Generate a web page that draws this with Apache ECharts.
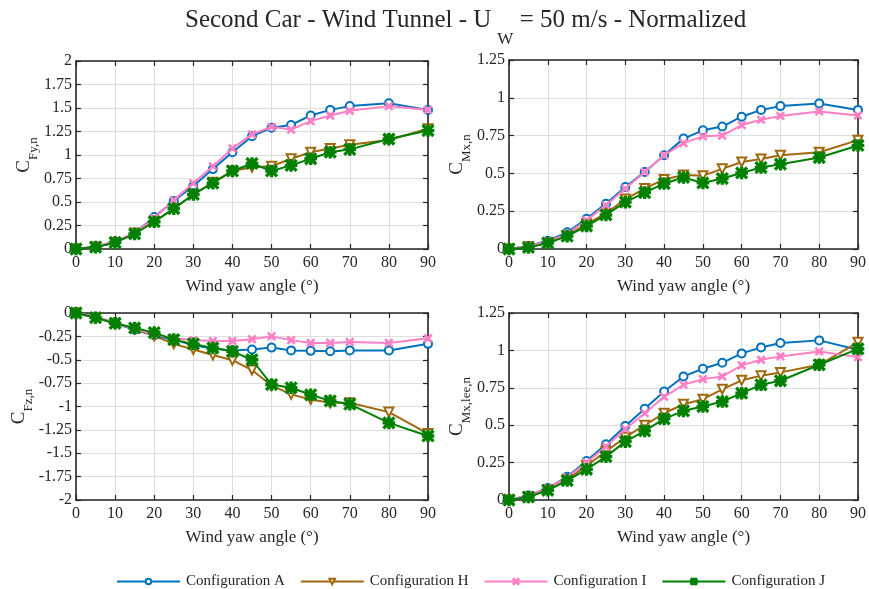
<!DOCTYPE html>
<html><head><meta charset="utf-8">
<script src="https://cdn.jsdelivr.net/npm/echarts@6/dist/echarts.min.js"></script>
<style>html,body{margin:0;padding:0;background:#fff}#c{width:869px;height:589px}</style>
</head><body><div id="c"></div>
<script>
const angles = [0,5,10,15,20,25,30,35,40,45,50,55,60,65,70,80,90];
const seriesNames = ['Configuration A','Configuration H','Configuration I','Configuration J'];

const cfyA = [0,0.02,0.07,0.17,0.34,0.51,0.67,0.85,1.03,1.20,1.29,1.32,1.42,1.48,1.52,1.55,1.48];
const cfyH = [0,0.02,0.07,0.17,0.29,0.43,0.58,0.71,0.83,0.87,0.88,0.96,1.03,1.07,1.11,1.16,1.28];
const cfyI = [0,0.03,0.08,0.17,0.33,0.52,0.70,0.88,1.07,1.22,1.30,1.27,1.36,1.42,1.47,1.52,1.48];
const cfyJ = [0,0.02,0.07,0.16,0.29,0.43,0.58,0.70,0.83,0.91,0.83,0.89,0.96,1.03,1.06,1.17,1.26];

const cmxA = [0,0.02,0.055,0.11,0.20,0.30,0.41,0.51,0.62,0.73,0.785,0.81,0.875,0.92,0.945,0.963,0.92];
const cmxH = [0,0.015,0.04,0.09,0.165,0.235,0.33,0.40,0.46,0.49,0.485,0.53,0.575,0.595,0.62,0.64,0.72];
const cmxI = [0,0.02,0.05,0.10,0.19,0.29,0.40,0.51,0.62,0.70,0.745,0.75,0.82,0.855,0.88,0.91,0.883];
const cmxJ = [0,0.01,0.04,0.085,0.152,0.225,0.31,0.373,0.433,0.473,0.437,0.466,0.503,0.539,0.561,0.605,0.685];

const cfzA = [0,-0.04,-0.11,-0.18,-0.24,-0.285,-0.345,-0.38,-0.40,-0.39,-0.37,-0.40,-0.405,-0.41,-0.40,-0.40,-0.33];
const cfzH = [0,-0.05,-0.11,-0.17,-0.245,-0.33,-0.39,-0.45,-0.505,-0.61,-0.775,-0.87,-0.925,-0.96,-0.96,-1.06,-1.29];
const cfzI = [0,-0.04,-0.11,-0.17,-0.23,-0.27,-0.29,-0.30,-0.30,-0.28,-0.25,-0.29,-0.32,-0.32,-0.31,-0.32,-0.27];
const cfzJ = [0,-0.05,-0.11,-0.16,-0.21,-0.285,-0.33,-0.374,-0.41,-0.50,-0.765,-0.80,-0.875,-0.94,-0.975,-1.175,-1.315];

const cmlA = [0,0.03,0.08,0.155,0.26,0.373,0.495,0.61,0.725,0.826,0.877,0.917,0.98,1.02,1.05,1.067,1.004];
const cmlH = [0,0.02,0.07,0.135,0.23,0.324,0.42,0.50,0.58,0.64,0.674,0.74,0.80,0.83,0.853,0.904,1.054];
const cmlI = [0,0.03,0.08,0.15,0.25,0.357,0.475,0.58,0.69,0.77,0.808,0.826,0.90,0.937,0.96,0.993,0.955];
const cmlJ = [0,0.02,0.065,0.13,0.205,0.29,0.39,0.462,0.542,0.596,0.625,0.658,0.714,0.77,0.797,0.904,1.01];

const yTicks = [
  {min:0, max:2, interval:0.25},
  {min:0, max:1.25, interval:0.25},
  {min:-2, max:0, interval:0.25},
  {min:0, max:1.25, interval:0.25}
];
const yNames = ['Fy,n','Mx,n','Fz,n','Mx,lee,n'];
const panels = [[cfyA,cfyH,cfyI,cfyJ],[cmxA,cmxH,cmxI,cmxJ],[cfzA,cfzH,cfzI,cfzJ],[cmlA,cmlH,cmlI,cmlJ]];

const colors = ['#0072BD','#A0690F','#FF7FC4','#008000'];
const xPath = 'path://M1,0 L5,4 L9,0 L10,1 L6,5 L10,9 L9,10 L5,6 L1,10 L0,9 L4,5 L0,1 Z';
const starPath = 'path://M4.2,0 H5.8 V10 H4.2 Z M0,4.2 H10 V5.8 H0 Z M1.1,0 L10,8.9 L8.9,10 L0,1.1 Z M8.9,0 L10,1.1 L1.1,10 L0,8.9 Z';
const symbols = [
  {symbol:'emptyCircle', symbolSize:8, symbolRotate:0},
  {symbol:'emptyTriangle', symbolSize:9, symbolRotate:180},
  {symbol:xPath, symbolSize:7, symbolRotate:0},
  {symbol:starPath, symbolSize:11, symbolRotate:0}
];

const FONT = 'Liberation Serif';
const TXT = '#262626';
const grids = [
  {left:76, top:61, width:352, height:188},
  {left:509, top:60, width:352, height:189},
  {left:76, top:313, width:352, height:187},
  {left:509, top:313, width:352, height:187}
];

const xAxes = [], yAxes = [], series = [];
grids.forEach((g, i) => {
  xAxes.push({
    type:'value', gridIndex:i, min:0, max:90, interval:10, position:'bottom',
    name:'Wind yaw angle (°)', nameLocation:'middle', nameGap:29,
    nameTextStyle:{fontFamily:FONT, fontSize:17, color:TXT},
    axisLine:{show:true, onZero:false, lineStyle:{color:TXT, width:1.6}},
    axisTick:{show:true, inside:true, length:5, lineStyle:{color:TXT, width:1.2}},
    axisLabel:{fontFamily:FONT, fontSize:16, color:TXT, margin:6},
    splitLine:{show:true, lineStyle:{color:'#dedede', width:1}}
  });
  xAxes.push({
    type:'value', gridIndex:i, min:0, max:90, interval:10, position:'top',
    axisLine:{show:true, onZero:false, lineStyle:{color:TXT, width:1.6}},
    axisTick:{show:true, inside:true, length:5, lineStyle:{color:TXT, width:1.2}},
    axisLabel:{show:false}, splitLine:{show:false}
  });
  const t = yTicks[i];
  yAxes.push({
    type:'value', gridIndex:i, min:t.min, max:t.max, interval:t.interval, position:'left',
    name:'{c|C}{s|' + yNames[i] + '}', nameLocation:'middle', nameGap:42, nameRotate:90,
    nameTextStyle:{rich:{
      c:{fontFamily:FONT, fontSize:19, color:TXT, lineHeight:22, verticalAlign:'bottom'},
      s:{fontFamily:FONT, fontSize:13, color:TXT, lineHeight:22, verticalAlign:'bottom', padding:[0,0,-6,0]}
    }},
    axisLine:{show:true, onZero:false, lineStyle:{color:TXT, width:1.6}},
    axisTick:{show:true, inside:true, length:5, lineStyle:{color:TXT, width:1.2}},
    axisLabel:{fontFamily:FONT, fontSize:16, color:TXT, margin:4},
    splitLine:{show:true, lineStyle:{color:'#dedede', width:1}}
  });
  yAxes.push({
    type:'value', gridIndex:i, min:t.min, max:t.max, interval:t.interval, position:'right',
    axisLine:{show:true, onZero:false, lineStyle:{color:TXT, width:1.6}},
    axisTick:{show:true, inside:true, length:5, lineStyle:{color:TXT, width:1.2}},
    axisLabel:{show:false}, splitLine:{show:false}
  });
  panels[i].forEach((vals, k) => {
    series.push({
      name: seriesNames[k], type:'line', xAxisIndex:i*2, yAxisIndex:i*2,
      data: angles.map((a, j) => [a, vals[j]]),
      color: colors[k],
      lineStyle:{width:2, color:colors[k]},
      itemStyle:{color:colors[k], borderColor:colors[k], borderWidth:1.6},
      symbol: symbols[k].symbol, symbolSize: symbols[k].symbolSize, symbolRotate: symbols[k].symbolRotate,
      showAllSymbol:true, animation:false, z: 2+k
    });
  });
});

const chart = echarts.init(document.getElementById('c'), null, {renderer:'canvas'});
chart.setOption({
  backgroundColor:'#fff',
  animation:false,
  title:{
    text:'Second Car - Wind Tunnel - U{sub|W} = 50 m/s - Normalized',
    left:180, top:3,
    textStyle:{fontFamily:FONT, fontSize:25, fontWeight:'normal', color:TXT,
      rich:{sub:{fontFamily:FONT, fontSize:17, color:TXT, verticalAlign:'bottom', padding:[0,0,-15,6]}}}
  },
  legend:{
    data: seriesNames, top:569, left:111,
    itemWidth:63, itemHeight:7, itemGap:15,
    textStyle:{fontFamily:FONT, fontSize:15, color:TXT, padding:[0,0,0,1]}
  },
  grid: grids,
  xAxis: xAxes,
  yAxis: yAxes,
  series: series
});
</script></body></html>
